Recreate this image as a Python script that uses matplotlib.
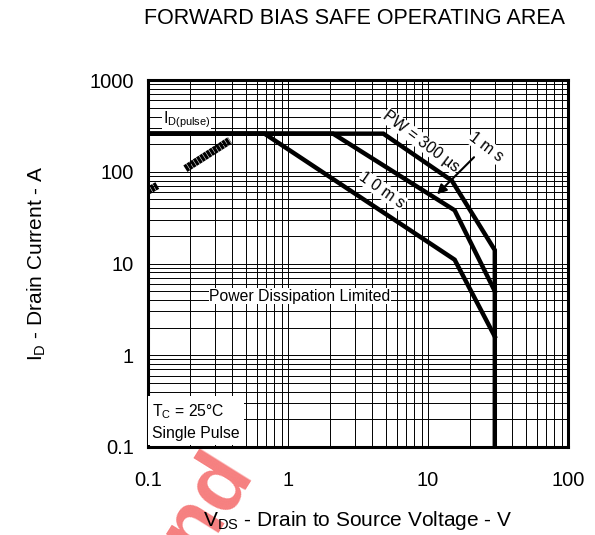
import matplotlib
matplotlib.use("Agg")
import matplotlib.pyplot as plt
from matplotlib.ticker import FixedLocator, FixedFormatter, LogLocator, NullFormatter

plt.rcParams['font.family'] = ['Liberation Sans', 'DejaVu Sans']
plt.rcParams['mathtext.fontset'] = 'custom'
plt.rcParams['mathtext.rm'] = 'Liberation Sans'
plt.rcParams['mathtext.it'] = 'Liberation Sans'

# Data
id_pulse = 260
vds_300us = [0.1, 4.8, 14.8, 30, 30]
id_300us = [id_pulse, id_pulse, 80, 14, 0.1]
vds_1ms = [0.1, 2.1, 15.5, 30]
id_1ms = [id_pulse, id_pulse, 38, 5.0]
vds_10ms = [0.1, 0.68, 15.5, 30]
id_10ms = [id_pulse, id_pulse, 11, 1.6]
rds_v1 = [0.1, 0.117]
rds_i1 = [62, 71]
rds_v2 = [0.185, 0.385]
rds_i2 = [108, 220]

xticks = [0.1, 1, 10, 100]
xlabels = ['0.1', '1', '10', '100']
yticks = [0.1, 1, 10, 100, 1000]
ylabels = ['0.1', '1', '10', '100', '1000']

fig = plt.figure(figsize=(5.95, 5.35), dpi=100)
ax = fig.add_axes([148/595, 1-447/535, 420/595, 367/535])
ax.set_xscale('log')
ax.set_yscale('log')
ax.set_xlim(0.1, 100)
ax.set_ylim(0.1, 1000)

ax.xaxis.set_major_locator(FixedLocator(xticks))
ax.xaxis.set_major_formatter(FixedFormatter(xlabels))
ax.yaxis.set_major_locator(FixedLocator(yticks))
ax.yaxis.set_major_formatter(FixedFormatter(ylabels))
ax.xaxis.set_minor_locator(LogLocator(base=10, subs=range(2, 10)))
ax.yaxis.set_minor_locator(LogLocator(base=10, subs=range(2, 10)))
ax.xaxis.set_minor_formatter(NullFormatter())
ax.yaxis.set_minor_formatter(NullFormatter())
ax.tick_params(which='both', length=0, labelsize=14.5)
ax.tick_params(axis='x', pad=17)
ax.tick_params(axis='y', pad=10)
ax.grid(True, which='both', color='black', linewidth=0.7)
ax.set_axisbelow(True)
for s in ax.spines.values():
    s.set_linewidth(2.2)

lw = 3.2
ax.plot(vds_300us, id_300us, color='black', lw=lw, solid_joinstyle='miter', zorder=3)
ax.plot(vds_1ms, id_1ms, color='black', lw=lw, solid_joinstyle='miter', zorder=3)
ax.plot(vds_10ms, id_10ms, color='black', lw=lw, solid_joinstyle='miter', zorder=3)
for vx, iy in ((rds_v1, rds_i1), (rds_v2, rds_i2)):
    ax.plot(vx, iy, color='black', lw=5.5, dashes=[0.42, 0.07], dash_capstyle='butt', zorder=3)

fs = 11.3
bb = dict(facecolor='white', edgecolor='none', pad=0.5)
ax.text(0.127, 370, r'I$_{\rm D(pulse)}$', fontsize=fs, va='center', ha='left', bbox=bb, zorder=4)
ax.text(1.22, 4.4, 'Power Dissipation Limited', fontsize=fs, va='center', ha='center', bbox=bb, zorder=4)
ax.text(0.107, 0.19, 'T$_{\\rm C}$ = 25°C\nSingle Pulse', fontsize=fs, va='center', ha='left',
        linespacing=1.45, bbox=dict(facecolor='white', edgecolor='none', pad=3), zorder=4)

def px2data(px, py):
    x = 10 ** ((px - 288) / 140.0)
    y = 10 ** ((355 - py) / 91.75)
    return x, y

ax.text(*px2data(421, 141), 'PW = 300 µs', fontsize=fs, rotation=-37, ha='center', va='center',
        rotation_mode='anchor', bbox=bb, zorder=4)
ax.text(*px2data(486, 147), '1 m s', fontsize=fs, rotation=-37, ha='center', va='center',
        rotation_mode='anchor', bbox=bb, zorder=4)
ax.text(*px2data(382, 190), '1 0 m s', fontsize=fs, rotation=-35, ha='center', va='center',
        rotation_mode='anchor', bbox=bb, zorder=4)
ax.annotate('', xy=px2data(435, 196), xytext=px2data(476, 155),
            arrowprops=dict(arrowstyle='-|>', color='black', lw=1.5, mutation_scale=14), zorder=5)

ax.set_xlabel(r'V$_{\rm DS}$ - Drain to Source Voltage - V', fontsize=15, labelpad=14)
ax.set_ylabel(r'I$_{\rm D}$ - Drain Current - A', fontsize=15, labelpad=30)
fig.text(355/595, 1-18/535, 'FORWARD BIAS SAFE OPERATING AREA', fontsize=15.5, ha='center', va='center')

fig.text(0.33, 0.02, 'and', fontsize=60, fontweight='bold', color='#f24a4a', alpha=0.7,
         rotation=58, ha='center', va='center', zorder=-1)

fig.savefig('out.png', dpi=100)
